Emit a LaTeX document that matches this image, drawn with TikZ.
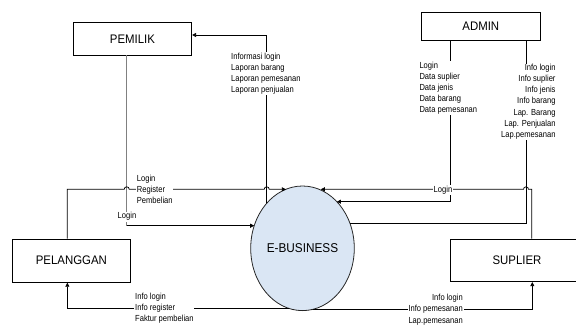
\documentclass[tikz,border=0pt]{standalone}
\usepackage{fontspec}
\setmainfont{Liberation Sans}
\newfontfamily\narrowfont[FakeStretch=0.86]{Liberation Sans}
\newfontfamily\boxfont[FakeStretch=0.92]{Liberation Sans}
\usetikzlibrary{shapes.geometric,arrows.meta}
\definecolor{ebfill}{HTML}{DAE6F4}
\definecolor{pgray}{HTML}{808080}
\tikzset{
  box/.style={draw=black, line width=0.8pt, inner sep=0pt, font=\boxfont\fontsize{12.4}{14}\selectfont},
  lbl/.style={fill=white, inner sep=0.8pt, font=\narrowfont\fontsize{8.8}{11.1}\selectfont},
  flow/.style={draw=black, line width=0.75pt},
  arr/.style={flow, -{Triangle[length=4pt,width=4pt]}},
}
\begin{document}
\begin{tikzpicture}[x=1pt,y=-1pt]
\useasboundingbox (0,0) rectangle (576,327);
% boxes
\node[box, minimum width=118.4pt, minimum height=32.3pt] (pemilik) at (132.5,38.85) {PEMILIK};
\node[box, minimum width=118.3pt, minimum height=28pt] (admin) at (480.85,26.7) {ADMIN};
\node[box, minimum width=117.3pt, minimum height=43.3pt] (pelanggan) at (71.35,260.65) {PELANGGAN};
\node[box, minimum width=134pt, minimum height=42.7pt] (suplier) at (517,260.35) {SUPLIER};
\node[ellipse, draw=black!85, line width=0.8pt, fill=ebfill, minimum width=103.6pt, minimum height=124.6pt, inner sep=0pt, font=\boxfont\fontsize{12.8}{14}\selectfont] (ebus) at (302.5,248.3) {E-BUSINESS};

% helper points on the ellipse border
\coordinate (eA) at (285.9,189.3);  % from pelanggan
\coordinate (eB) at (320.8,189.3);  % from suplier (login)
\coordinate (eC) at (336.9,201.7);  % from admin left
\coordinate (eD) at (350.0,223.3);  % admin right
\coordinate (eE) at (254.2,225.7);  % from pemilik
\coordinate (eF) at (266.7,203.3);  % to pemilik
\coordinate (eG) at (288.6,308.3);  % to pelanggan
\coordinate (eH) at (313.0,309.3);  % to suplier
\coordinate (pc) at ([xshift=-5.8pt]pemilik.south |- eE);

% ebus -> pemilik
\draw[arr] (eF) |- ([yshift=3.85pt]pemilik.east);
% pemilik -> ebus
\draw[draw=pgray, line width=0.9pt] ([xshift=-5.8pt]pemilik.south) -- (pc);
\draw[arr] (pc) -- (eE);
% pelanggan -> ebus with hops
\draw[arr] ([xshift=-4pt]pelanggan.north) |- (124.2,189.3)
   arc[start angle=180,end angle=360,radius=2.5] -- (264.2,189.3)
   arc[start angle=180,end angle=360,radius=2.5] -- (eA);
% admin left -> ebus
\draw[arr] ([xshift=-30.85pt]admin.south) |- (eC);
% admin right (ebus -> admin)
\draw[flow] ([xshift=45.15pt]admin.south) |- (eD);
% suplier -> ebus with hop
\draw[arr] ([xshift=14.7pt]suplier.north) |- (528.5,189.3)
   arc[start angle=0,end angle=-180,radius=2.5] -- (eB);
% ebus -> pelanggan
\draw[arr] (eG) -| ([xshift=-4pt]pelanggan.south);
% ebus -> suplier
\draw[arr] (eH) -| ([xshift=15.3pt]suplier.south);

% labels
\node[lbl, anchor=west, align=left] (l1) at (230.2,73.4) {Informasi login\\Laporan barang\\Laporan pemesanan\\Laporan penjualan};
\node[lbl, anchor=west, align=left] (l2) at (135.9,189.3) {Login\\Register\\Pembelian};
\node[lbl] (l3) at (127,216.7) {Login};
\node[lbl, anchor=west, align=left] (l4) at (418.5,88.3) {Login\\Data suplier\\Data jenis\\Data barang\\Data pemesanan};
\node[lbl, anchor=east, align=right] (l5) at (556.5,101.7) {Info login\\Info suplier\\Info jenis\\Info barang\\Lap. Barang\\Lap. Penjualan\\Lap.pemesanan};
\node[lbl] (l6) at (443,190) {Login};
\node[lbl, anchor=west, align=left] (l7) at (134.2,308.3) {Info login\\Info register\\Faktur pembelian};
\node[lbl, anchor=east, align=right] (l8) at (463.8,309.7) {Info login\\Info pemesanan\\Lap.pemesanan};
\end{tikzpicture}
\end{document}
